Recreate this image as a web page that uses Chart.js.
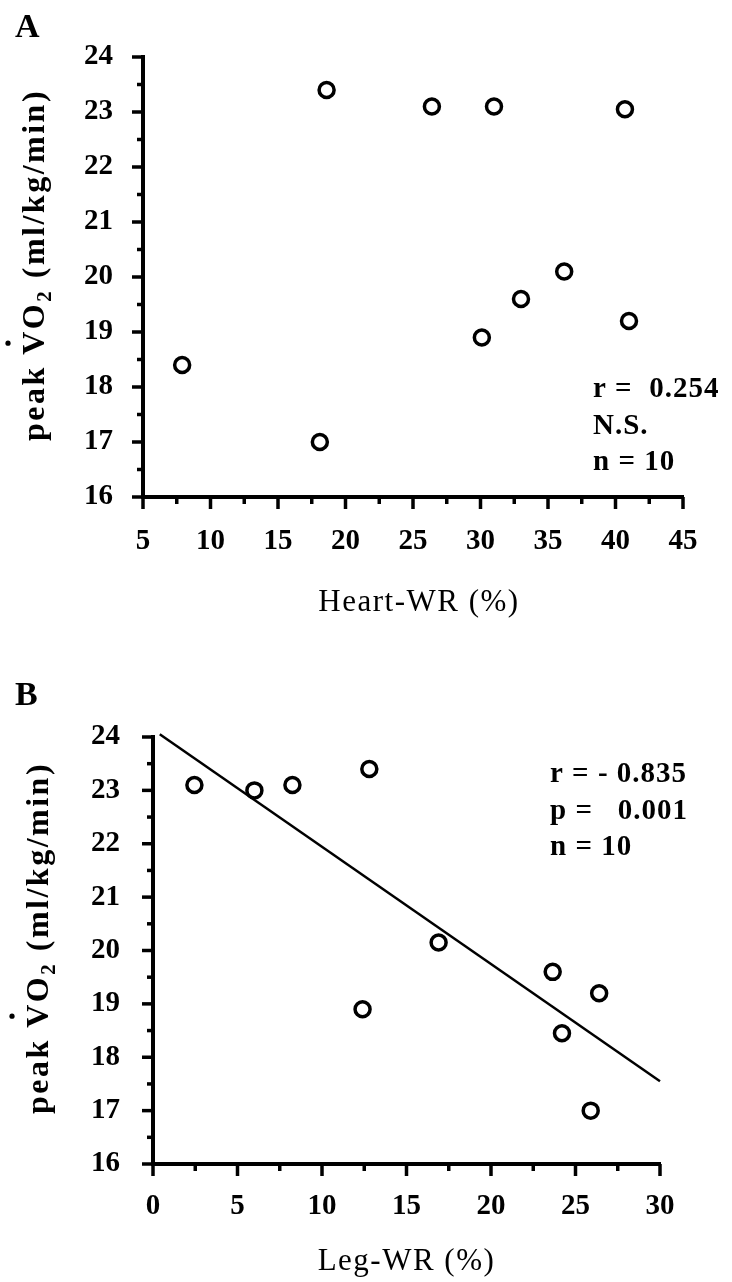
<!DOCTYPE html>
<html>
<head>
<meta charset="utf-8">
<script src="https://cdn.jsdelivr.net/npm/chart.js@4.4.0/dist/chart.umd.min.js"></script>
<style>
  html, body { margin: 0; padding: 0; background: #fff; }
  #wrapA { position: absolute; left: 0; top: 0; width: 732px; height: 640px; }
  #wrapB { position: absolute; left: 0; top: 640px; width: 732px; height: 642px; }
</style>
</head>
<body>
<div id="wrapA"><canvas id="chartA" width="732" height="640"></canvas></div>
<div id="wrapB"><canvas id="chartB" width="732" height="642"></canvas></div>
<script>
// panel A: heart work rate vs peak VO2
const heartWR  = [7.9, 18.1, 18.6, 26.4, 30.1, 31.0, 33.0, 36.2, 40.7, 41.0];
const peakVO2A = [18.4, 17.0, 23.4, 23.1, 18.9, 23.1, 19.6, 20.1, 23.05, 19.2];

// panel B: leg work rate vs peak VO2
const legWR    = [2.45, 6.0, 8.25, 12.8, 16.9, 12.4, 23.65, 26.4, 24.2, 25.9];
const peakVO2B = [23.1, 23.0, 23.1, 23.4, 20.15, 18.9, 19.6, 19.2, 18.45, 17.0];

// regression line (panel B), two ends
const fitX = [0.4, 30];
const fitY = [24.05, 17.55];

// labelled ticks
const yTicks  = [16, 17, 18, 19, 20, 21, 22, 23, 24];
const xTicksA = [5, 10, 15, 20, 25, 30, 35, 40, 45];
const xTicksB = [0, 5, 10, 15, 20, 25, 30];

const statsA = ['r =  0.254', 'N.S.', 'n = 10'];
const statsB = ['r = - 0.835', 'p =   0.001', 'n = 10'];

const SERIF = '"Liberation Serif", "Times New Roman", serif';

function hasTick(list, v) {
    return list.some(t => Math.abs(t - v) < 1e-6);
}

function toPoints(xs, ys) {
    return xs.map((x, i) => ({x: x, y: ys[i]}));
}

// y title with dotted V and subscript 2, rotated
function drawYTitle(ctx, baseX, midY) {
    const big = 'bold 32px ' + SERIF;
    const small = 'bold 21px ' + SERIF;
    const parts = [
        {t: 'peak V', f: big, dy: 0},
        {t: 'O', f: big, dy: 0},
        {t: '2', f: small, dy: 7},
        {t: ' (ml/kg/min)', f: big, dy: 0}
    ];
    ctx.save();
    ctx.translate(baseX, midY);
    ctx.rotate(-Math.PI / 2);
    ctx.letterSpacing = '2.5px';
    ctx.textBaseline = 'alphabetic';
    ctx.textAlign = 'left';
    let total = 0;
    parts.forEach(p => { ctx.font = p.f; p.w = ctx.measureText(p.t).width; total += p.w; });
    let x = -total / 2;
    ctx.font = big;
    const vEnd = x + parts[0].w - 2.5;
    const vW = ctx.measureText('V').width - 2.5;
    parts.forEach(p => {
        ctx.font = p.f;
        ctx.fillText(p.t, x, p.dy);
        x += p.w;
    });
    // dot over the V
    ctx.beginPath();
    ctx.arc(vEnd - vW / 2, -36, 2.6, 0, Math.PI * 2);
    ctx.fill();
    ctx.restore();
}

const paperPlugin = {
    id: 'paper',
    afterDraw(chart, args, opts) {
        const ctx = chart.ctx;
        const area = chart.chartArea;
        const xs = chart.scales.x;
        const ys = chart.scales.y;
        ctx.save();
        ctx.strokeStyle = '#000';
        ctx.fillStyle = '#000';
        ctx.lineWidth = 3.5;
        // tick marks, long on labelled values
        ys.ticks.forEach(t => {
            const py = ys.getPixelForValue(t.value);
            const len = hasTick(yTicks, t.value) ? 11 : 6;
            ctx.beginPath();
            ctx.moveTo(area.left - len, py);
            ctx.lineTo(area.left, py);
            ctx.stroke();
        });
        xs.ticks.forEach(t => {
            const px = xs.getPixelForValue(t.value);
            const len = hasTick(opts.xTicks, t.value) ? 12 : 7;
            ctx.beginPath();
            ctx.moveTo(px, area.bottom);
            ctx.lineTo(px, area.bottom + len);
            ctx.stroke();
        });

        // panel letter
        ctx.font = 'bold 34px ' + SERIF;
        ctx.textAlign = 'left';
        ctx.textBaseline = 'alphabetic';
        ctx.fillText(opts.letter, 15, opts.letterY);

        drawYTitle(ctx, opts.yTitleX, opts.yTitleY);

        // x title
        ctx.save();
        ctx.letterSpacing = '1.5px';
        ctx.font = '31px ' + SERIF;
        ctx.textAlign = 'center';
        ctx.textBaseline = 'middle';
        ctx.fillText(opts.xTitle, (area.left + area.right) / 2 + opts.xTitleDx, opts.xTitleY);
        ctx.restore();

        // statistics
        ctx.save();
        ctx.letterSpacing = '1px';
        ctx.font = 'bold 29px ' + SERIF;
        ctx.textAlign = 'left';
        ctx.textBaseline = 'middle';
        opts.stats.forEach((s, i) => ctx.fillText(s, opts.statsX, opts.statsY + i * 36.5));
        ctx.restore();

        ctx.restore();
    }
};

function makeChart(id, cfg) {
    const tickFont = {family: SERIF, size: 29, weight: 'bold'};
    return new Chart(document.getElementById(id), {
        type: 'scatter',
        data: {datasets: cfg.datasets},
        options: {
            responsive: false,
            animation: false,
            events: [],
            layout: {padding: cfg.padding},
            plugins: {
                legend: {display: false},
                tooltip: {enabled: false},
                paper: cfg.paper
            },
            scales: {
                x: {
                    type: 'linear',
                    min: cfg.xMin,
                    max: cfg.xMax,
                    grid: {display: false, drawTicks: false},
                    border: {display: true, color: '#000', width: 4},
                    ticks: {
                        stepSize: 2.5,
                        autoSkip: false,
                        maxRotation: 0,
                        padding: cfg.xPad,
                        color: '#000',
                        font: tickFont,
                        callback: v => hasTick(cfg.paper.xTicks, v) ? String(Math.round(v)) : ''
                    },
                    afterFit: s => { s.height = cfg.xHeight; }
                },
                y: {
                    type: 'linear',
                    min: 16,
                    max: 24,
                    grid: {display: false, drawTicks: false},
                    border: {display: true, color: '#000', width: 4},
                    ticks: {
                        stepSize: 0.5,
                        autoSkip: false,
                        padding: cfg.yPad,
                        color: '#000',
                        font: tickFont,
                        callback: v => hasTick(yTicks, v) ? String(Math.round(v)) : ''
                    },
                    afterFit: s => { s.width = cfg.yWidth; }
                }
            }
        },
        plugins: [paperPlugin]
    });
}

const circleStyle = {
    pointStyle: 'circle',
    pointRadius: 7.5,
    borderWidth: 3.5,
    borderColor: '#000',
    backgroundColor: 'rgba(255,255,255,0)',
    clip: false
};

makeChart('chartA', {
    datasets: [Object.assign({data: toPoints(heartWR, peakVO2A)}, circleStyle)],
    padding: {top: 57, right: 49, bottom: 0, left: 0},
    xMin: 5, xMax: 45,
    xHeight: 143, yWidth: 143,
    xPad: 27, yPad: 30,
    paper: {
        xTicks: xTicksA,
        letter: 'A', letterY: 37,
        yTitleX: 44, yTitleY: 265,
        xTitle: 'Heart-WR (%)', xTitleY: 603, xTitleDx: 6,
        stats: statsA, statsX: 593, statsY: 390
    }
});

makeChart('chartB', {
    datasets: [
        Object.assign({data: toPoints(legWR, peakVO2B)}, circleStyle),
        {
            data: toPoints(fitX, fitY),
            showLine: true,
            borderColor: '#000',
            borderWidth: 2.5,
            pointRadius: 0,
            clip: false
        }
    ],
    padding: {top: 97, right: 72, bottom: 0, left: 0},
    xMin: 0, xMax: 30,
    xHeight: 118, yWidth: 153,
    xPad: 25, yPad: 33,
    paper: {
        xTicks: xTicksB,
        letter: 'B', letterY: 65,
        yTitleX: 48, yTitleY: 298,
        xTitle: 'Leg-WR (%)', xTitleY: 622, xTitleDx: 0,
        stats: statsB, statsX: 550, statsY: 135
    }
});
</script>
</body>
</html>
